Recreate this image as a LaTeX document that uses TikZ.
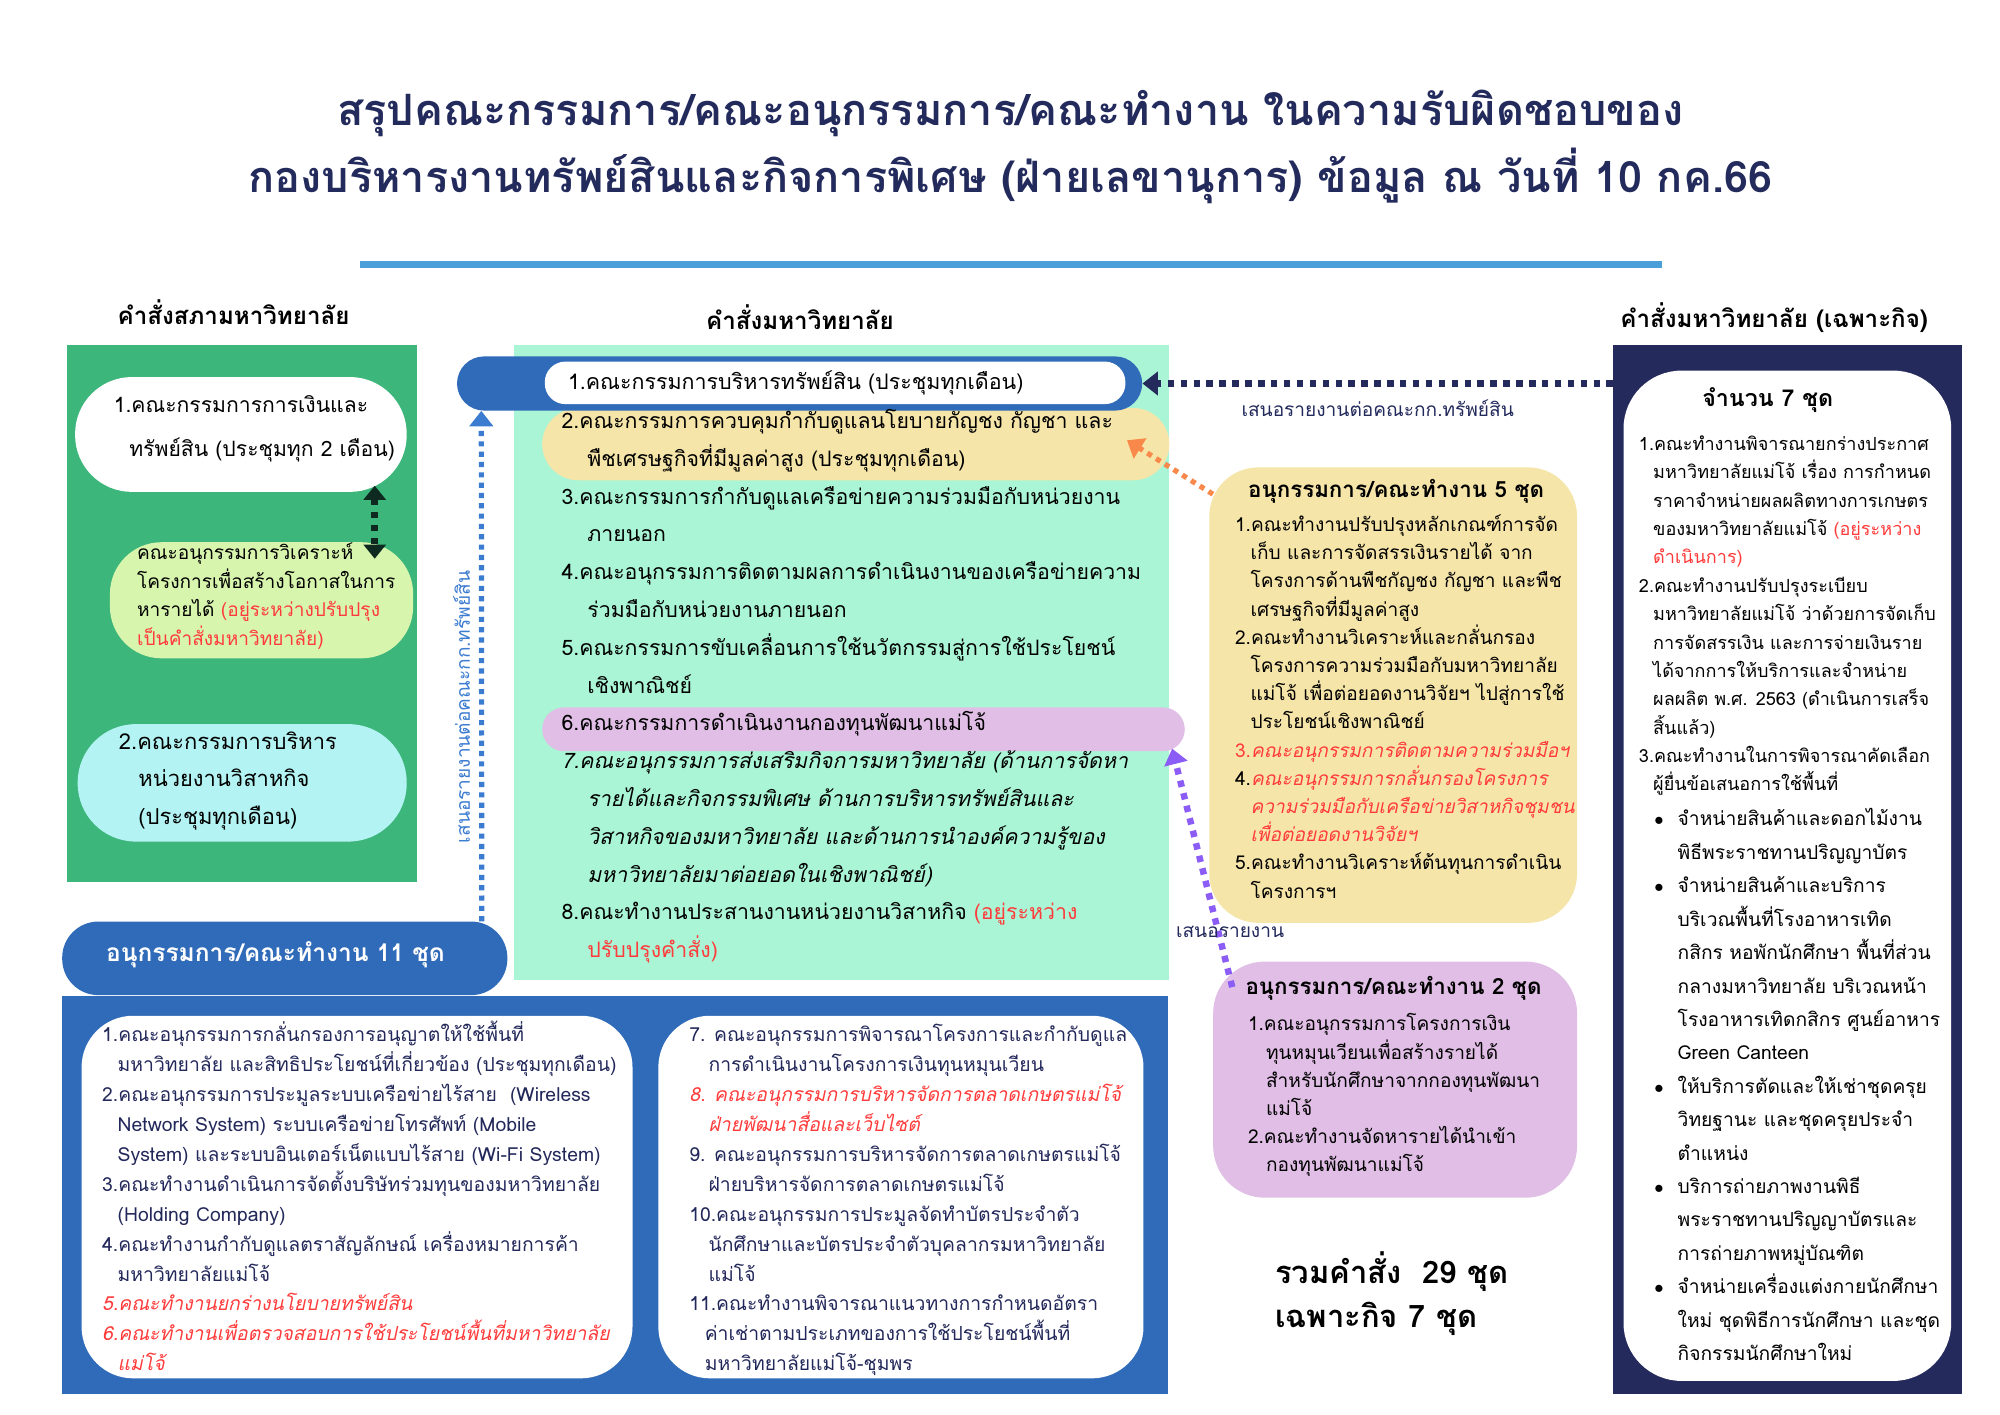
\documentclass[tikz,border=0pt]{standalone}
\usepackage{fontspec}
\setmainfont[Script=Thai]{Loma}
\usetikzlibrary{arrows.meta}
\definecolor{titlenavy}{HTML}{232A5C}
\definecolor{lineblue}{HTML}{4A9FD8}
\definecolor{sapagreen}{HTML}{3DB67B}
\definecolor{anagreen}{HTML}{D8F5AE}
\definecolor{cyanbox}{HTML}{B4F3F3}
\definecolor{mintbox}{HTML}{AAF5D5}
\definecolor{mjublue}{HTML}{2F6BB8}
\definecolor{hempyellow}{HTML}{F6E5A8}
\definecolor{fundlilac}{HTML}{E0BEE6}
\definecolor{adhocnavy}{HTML}{252A5C}
\definecolor{reporange}{HTML}{F8894A}
\definecolor{reppurple}{HTML}{8B5CF6}
\definecolor{repblue}{HTML}{3B7BD0}
\definecolor{darkarrow}{HTML}{0E2A20}
\definecolor{redtxt}{HTML}{FF3B3B}
\definecolor{bottomtxt}{HTML}{23285A}
\newcommand{\fsz}[2]{\fontsize{#1}{#2}\selectfont}
\newcommand{\fst}{\rule{0pt}{1.2em}}
\newcommand{\rd}[1]{\textcolor{redtxt}{#1}}
\tikzset{panel/.style={ % plain coloured area, placed by its top left corner
      rectangle, anchor=north west, inner sep=0pt, draw=none},
      pill/.style={panel, rounded corners=#1}, % rounded area
      txt/.style={anchor=north west, inner sep=0pt, align=left}, % block of lines
      head/.style={inner sep=0pt, font=\bfseries\fsz{18.7}{22}},
      replabel/.style={font=\fsz{14.8}{17}}, % text on a reporting line
      dotline/.style={ % square dotted connector
      line width=4pt, dash pattern=on 4pt off 4pt},
      tip/.style={-{Triangle[width=18pt,length=12pt]}}}

\begin{document}
\begin{tikzpicture}[x=1pt, y=-1pt]
      \fill[white] (0,0) rectangle (1550,1096);
      \useasboundingbox (0,0) rectangle (1550,1096);
      % title
      \node[align=center, text=titlenavy, font=\bfseries\fsz{33.5}{52}] (ttl) at (783,114)
            {สรุปคณะกรรมการ/คณะอนุกรรมการ/คณะทำงาน ในความรับผิดชอบของ\\
            กองบริหารงานทรัพย์สินและกิจการพิเศษ (ฝ่ายเลขานุการ) ข้อมูล ณ วันที่ 10 กค.66};
      \draw[lineblue, line width=6pt] (279,205) coordinate (rulel) -- (1288,205) coordinate (ruler);
      \node[head] (hsapa) at (181,242) {คำสั่งสภามหาวิทยาลัย};
      \node[head] (huni) at (620,246) {คำสั่งมหาวิทยาลัย};
      \node[head] (hadhoc) at (1375,246) {คำสั่งมหาวิทยาลัย (เฉพาะกิจ)};

      % council column
      \node[panel, fill=sapagreen, minimum width=271pt, minimum height=416pt] (sapa) at (52,267) {};
      \node[pill=44pt, fill=white, minimum width=257pt, minimum height=89pt] (fin) at (58,292) {};
      \node[pill=40pt, fill=anagreen, minimum width=235pt, minimum height=90pt] (ana) at (85,420) {};
      \node[pill=45pt, fill=cyanbox, minimum width=255pt, minimum height=91pt] (biz) at (60,561) {};
      \node[txt, font=\fsz{16.4}{34}] (fintxt) at (88,300)
            {\fst 1.คณะกรรมการการเงินและ\\\hspace*{12pt}ทรัพย์สิน (ประชุมทุก 2 เดือน)};
      \node[txt, font=\fsz{14.8}{22}] (anatxt) at (106,416)
            {\fst คณะอนุกรรมการวิเคราะห์\\โครงการเพื่อสร้างโอกาสในการ\\หารายได้ \rd{(อยู่ระหว่างปรับปรุง}\\\rd{เป็นคำสั่งมหาวิทยาลัย)}};
      \node[txt, font=\fsz{17}{29}] (biztxt) at (92,560)
            {\fst 2.คณะกรรมการบริหาร\\\hspace*{15pt}หน่วยงานวิสาหกิจ\\\hspace*{15pt}(ประชุมทุกเดือน)};
      \draw[darkarrow, line width=5pt, dash pattern=on 5pt off 5pt,
            {Triangle[width=17pt,length=11pt]}-{Triangle[width=17pt,length=11pt]}]
            ([xshift=-25pt, yshift=5pt]fin.south east) -- ([xshift=-30pt, yshift=-13pt]ana.north east);

      % university column
      \node[panel, fill=mintbox, minimum width=508pt, minimum height=492pt] (uni) at (398,267) {};
      \node[pill=28pt, fill=hempyellow, minimum width=486pt, minimum height=56pt] (hemp) at (420,316) {};
      \node[pill=17pt, fill=fundlilac, minimum width=498pt, minimum height=34pt] (fund) at (420,548) {};
      \node[pill=21pt, fill=mjublue, minimum width=531pt, minimum height=42pt] (prop) at (354,276) {};
      \node[pill=16pt, fill=white, minimum width=450pt, minimum height=33pt] (propin) at (422,280) {};
      \node[txt, font=\fsz{16.6}{20}] (proptxt) at (440,282)
            {\fst 1.คณะกรรมการบริหารทรัพย์สิน (ประชุมทุกเดือน)};
      \node[txt, font=\fsz{16.5}{29.3}] (unitxt) at (435,312)
            {\fst 2.คณะกรรมการควบคุมกำกับดูแลนโยบายกัญชง กัญชา และ\\
            \hspace*{20pt}พืชเศรษฐกิจที่มีมูลค่าสูง (ประชุมทุกเดือน)\\
            3.คณะกรรมการกำกับดูแลเครือข่ายความร่วมมือกับหน่วยงาน\\
            \hspace*{20pt}ภายนอก\\
            4.คณะอนุกรรมการติดตามผลการดำเนินงานของเครือข่ายความ\\
            \hspace*{20pt}ร่วมมือกับหน่วยงานภายนอก\\
            5.คณะกรรมการขับเคลื่อนการใช้นวัตกรรมสู่การใช้ประโยชน์\\
            \hspace*{20pt}เชิงพาณิชย์\\
            6.คณะกรรมการดำเนินงานกองทุนพัฒนาแม่โจ้\\
            \textit{7.คณะอนุกรรมการส่งเสริมกิจการมหาวิทยาลัย (ด้านการจัดหา}\\
            \hspace*{20pt}\textit{รายได้และกิจกรรมพิเศษ ด้านการบริหารทรัพย์สินและ}\\
            \hspace*{20pt}\textit{วิสาหกิจของมหาวิทยาลัย และด้านการนำองค์ความรู้ของ}\\
            \hspace*{20pt}\textit{มหาวิทยาลัยมาต่อยอดในเชิงพาณิชย์)}\\
            8.คณะทำงานประสานงานหน่วยงานวิสาหกิจ \rd{(อยู่ระหว่าง}\\
            \hspace*{20pt}\rd{ปรับปรุงคำสั่ง)}};

      % eleven sub-committees
      \node[panel, fill=mjublue, minimum width=857pt, minimum height=308pt] (eleven) at (48,772) {};
      \node[pill=28pt, fill=mjublue, minimum width=345pt, minimum height=57pt] (elevenpill) at (48,714) {};
      \node[anchor=west, inner sep=0pt, text=white, font=\bfseries\fsz{19}{22}] (eleventxt) at (82,740)
            {อนุกรรมการ/คณะทำงาน 11 ชุด};
      \node[pill=40pt, fill=white, minimum width=427pt, minimum height=281pt] (elevenl) at (63,787) {};
      \node[pill=40pt, fill=white, minimum width=376pt, minimum height=281pt] (elevenr) at (510,787) {};
      \node[txt, text=bottomtxt, font=\fsz{15}{23.2}] (elevenltxt) at (79,789)
            {\fst 1.คณะอนุกรรมการกลั่นกรองการอนุญาตให้ใช้พื้นที่\\
            \hspace*{12pt}มหาวิทยาลัย และสิทธิประโยชน์ที่เกี่ยวข้อง (ประชุมทุกเดือน)\\
            2.คณะอนุกรรมการประมูลระบบเครือข่ายไร้สาย~ (Wireless\\
            \hspace*{12pt}Network System) ระบบเครือข่ายโทรศัพท์ (Mobile\\
            \hspace*{12pt}System) และระบบอินเตอร์เน็ตแบบไร้สาย (Wi-Fi System)\\
            3.คณะทำงานดำเนินการจัดตั้งบริษัทร่วมทุนของมหาวิทยาลัย\\
            \hspace*{12pt}(Holding Company)\\
            4.คณะทำงานกำกับดูแลตราสัญลักษณ์ เครื่องหมายการค้า\\
            \hspace*{12pt}มหาวิทยาลัยแม่โจ้\\
            \rd{\textit{5.คณะทำงานยกร่างนโยบายทรัพย์สิน}}\\
            \rd{\textit{6.คณะทำงานเพื่อตรวจสอบการใช้ประโยชน์พื้นที่มหาวิทยาลัย}}\\
            \hspace*{12pt}\rd{\textit{แม่โจ้}}};
      \node[txt, text=bottomtxt, font=\fsz{15}{23.2}] (elevenrtxt) at (534,789)
            {\fst 7. คณะอนุกรรมการพิจารณาโครงการและกำกับดูแล\\
            \hspace*{15pt}การดำเนินงานโครงการเงินทุนหมุนเวียน\\
            \rd{\textit{8. คณะอนุกรรมการบริหารจัดการตลาดเกษตรแม่โจ้}}\\
            \hspace*{15pt}\rd{\textit{ฝ่ายพัฒนาสื่อและเว็บไซต์}}\\
            9. คณะอนุกรรมการบริหารจัดการตลาดเกษตรแม่โจ้\\
            \hspace*{15pt}ฝ่ายบริหารจัดการตลาดเกษตรแม่โจ้\\
            10.คณะอนุกรรมการประมูลจัดทำบัตรประจำตัว\\
            \hspace*{15pt}นักศึกษาและบัตรประจำตัวบุคลากรมหาวิทยาลัย\\
            \hspace*{15pt}แม่โจ้\\
            11.คณะทำงานพิจารณาแนวทางการกำหนดอัตรา\\
            \hspace*{12pt}ค่าเช่าตามประเภทของการใช้ประโยชน์พื้นที่\\
            \hspace*{12pt}มหาวิทยาลัยแม่โจ้-ชุมพร};

      % five and two sub-committees
      \node[pill=38pt, fill=hempyellow, minimum width=285pt, minimum height=353pt] (five) at (937,362) {};
      \node[head, font=\bfseries\fsz{17.3}{20}] (fivetitle) at (1082,381) {อนุกรรมการ/คณะทำงาน 5 ชุด};
      \node[txt, font=\fsz{14.8}{21.85}] (fivetxt) at (957,394)
            {\fst 1.คณะทำงานปรับปรุงหลักเกณฑ์การจัด\\
            \hspace*{12pt}เก็บ และการจัดสรรเงินรายได้ จาก\\
            \hspace*{12pt}โครงการด้านพืชกัญชง กัญชา และพืช\\
            \hspace*{12pt}เศรษฐกิจที่มีมูลค่าสูง\\
            2.คณะทำงานวิเคราะห์และกลั่นกรอง\\
            \hspace*{12pt}โครงการความร่วมมือกับมหาวิทยาลัย\\
            \hspace*{12pt}แม่โจ้ เพื่อต่อยอดงานวิจัยฯ ไปสู่การใช้\\
            \hspace*{12pt}ประโยชน์เชิงพาณิชย์\\
            \rd{3.\textit{คณะอนุกรรมการติดตามความร่วมมือฯ}}\\
            4.\rd{\textit{คณะอนุกรรมการกลั่นกรองโครงการ}}\\
            \hspace*{12pt}\rd{\textit{ความร่วมมือกับเครือข่ายวิสาหกิจชุมชน}}\\
            \hspace*{12pt}\rd{\textit{เพื่อต่อยอดงานวิจัยฯ}}\\
            5.คณะทำงานวิเคราะห์ต้นทุนการดำเนิน\\
            \hspace*{12pt}โครงการฯ};
      \node[pill=40pt, fill=fundlilac, minimum width=282pt, minimum height=183pt] (two) at (940,745) {};
      \node[head, font=\bfseries\fsz{17.3}{20}] (twotitle) at (1080,766) {อนุกรรมการ/คณะทำงาน 2 ชุด};
      \node[txt, font=\fsz{14.8}{21.8}] (twotxt) at (967,781)
            {\fst 1.คณะอนุกรรมการโครงการเงิน\\
            \hspace*{14pt}ทุนหมุนเวียนเพื่อสร้างรายได้\\
            \hspace*{14pt}สำหรับนักศึกษาจากกองทุนพัฒนา\\
            \hspace*{14pt}แม่โจ้\\
            2.คณะทำงานจัดหารายได้นำเข้า\\
            \hspace*{14pt}กองทุนพัฒนาแม่โจ้};
      \node[txt, font=\bfseries\fsz{24}{34}] (total) at (988,966)
            {\fst รวมคำสั่ง~ 29 ชุด\\เฉพาะกิจ 7 ชุด};

      % ad hoc column
      \node[panel, fill=adhocnavy, minimum width=270pt, minimum height=813pt] (adhoc) at (1250,267) {};
      \node[pill=45pt, fill=white, minimum width=254pt, minimum height=783pt] (adhocin) at (1258,287) {};
      \node[head, font=\bfseries\fsz{18}{20}] (adhoctitle) at (1370,310) {จำนวน 7 ชุด};
      \node[txt, font=\fsz{14}{22}] (adhoctxt) at (1270,332)
            {\fst 1.คณะทำงานพิจารณายกร่างประกาศ\\
            \hspace*{11pt}มหาวิทยาลัยแม่โจ้ เรื่อง การกำหนด\\
            \hspace*{11pt}ราคาจำหน่ายผลผลิตทางการเกษตร\\
            \hspace*{11pt}ของมหาวิทยาลัยแม่โจ้ \rd{(อยู่ระหว่าง}\\
            \hspace*{11pt}\rd{ดำเนินการ)}\\
            2.คณะทำงานปรับปรุงระเบียบ\\
            \hspace*{11pt}มหาวิทยาลัยแม่โจ้ ว่าด้วยการจัดเก็บ\\
            \hspace*{11pt}การจัดสรรเงิน และการจ่ายเงินราย\\
            \hspace*{11pt}ได้จากการให้บริการและจำหน่าย\\
            \hspace*{11pt}ผลผลิต พ.ศ. 2563 (ดำเนินการเสร็จ\\
            \hspace*{11pt}สิ้นแล้ว)\\
            3.คณะทำงานในการพิจารณาคัดเลือก\\
            \hspace*{11pt}ผู้ยื่นข้อเสนอการใช้พื้นที่};
      \node[txt, font=\fsz{14.9}{25.9}] (areatxt) at (1282,622)
            {\fst\makebox[18pt][l]{$\bullet$}จำหน่ายสินค้าและดอกไม้งาน\\
            \hspace*{18pt}พิธีพระราชทานปริญญาบัตร\\
            \makebox[18pt][l]{$\bullet$}จำหน่ายสินค้าและบริการ\\
            \hspace*{18pt}บริเวณพื้นที่โรงอาหารเทิด\\
            \hspace*{18pt}กสิกร หอพักนักศึกษา พื้นที่ส่วน\\
            \hspace*{18pt}กลางมหาวิทยาลัย บริเวณหน้า\\
            \hspace*{18pt}โรงอาหารเทิดกสิกร ศูนย์อาหาร\\
            \hspace*{18pt}Green Canteen\\
            \makebox[18pt][l]{$\bullet$}ให้บริการตัดและให้เช่าชุดครุย\\
            \hspace*{18pt}วิทยฐานะ และชุดครุยประจำ\\
            \hspace*{18pt}ตำแหน่ง\\
            \makebox[18pt][l]{$\bullet$}บริการถ่ายภาพงานพิธี\\
            \hspace*{18pt}พระราชทานปริญญาบัตรและ\\
            \hspace*{18pt}การถ่ายภาพหมู่บัณฑิต\\
            \makebox[18pt][l]{$\bullet$}จำหน่ายเครื่องแต่งกายนักศึกษา\\
            \hspace*{18pt}ใหม่ ชุดพิธีการนักศึกษา และชุด\\
            \hspace*{18pt}กิจกรรมนักศึกษาใหม่};

      % reporting lines
      \draw[dotline, adhocnavy, line width=5pt, dash pattern=on 5pt off 5pt, tip]
            (adhoc.west |- prop.east) -- (prop.east)
            node[midway, below=7pt, text=titlenavy, replabel] {เสนอรายงานต่อคณะกก.ทรัพย์สิน};
      \draw[dotline, repblue, tip]
            ([xshift=-20pt]elevenpill.north east) -- ([xshift=19pt]prop.south west)
            node[pos=0.42, rotate=90, anchor=south, inner sep=7pt, text=repblue, replabel] {เสนอรายงานต่อคณะกก.ทรัพย์สิน};
      \draw[dotline, reporange, tip]
            ([xshift=3pt, yshift=-21pt]five.north west) -- ([xshift=-33pt, yshift=3pt]hemp.east);
      \draw[dotline, reppurple, line width=5pt, dash pattern=on 5pt off 5pt, tip]
            ([xshift=15pt, yshift=-20pt]two.north west) -- ([xshift=-10pt, yshift=-15pt]fund.east)
            node[pos=0.23, xshift=9pt, text=titlenavy, replabel] {เสนอรายงาน};
\end{tikzpicture}
\end{document}
